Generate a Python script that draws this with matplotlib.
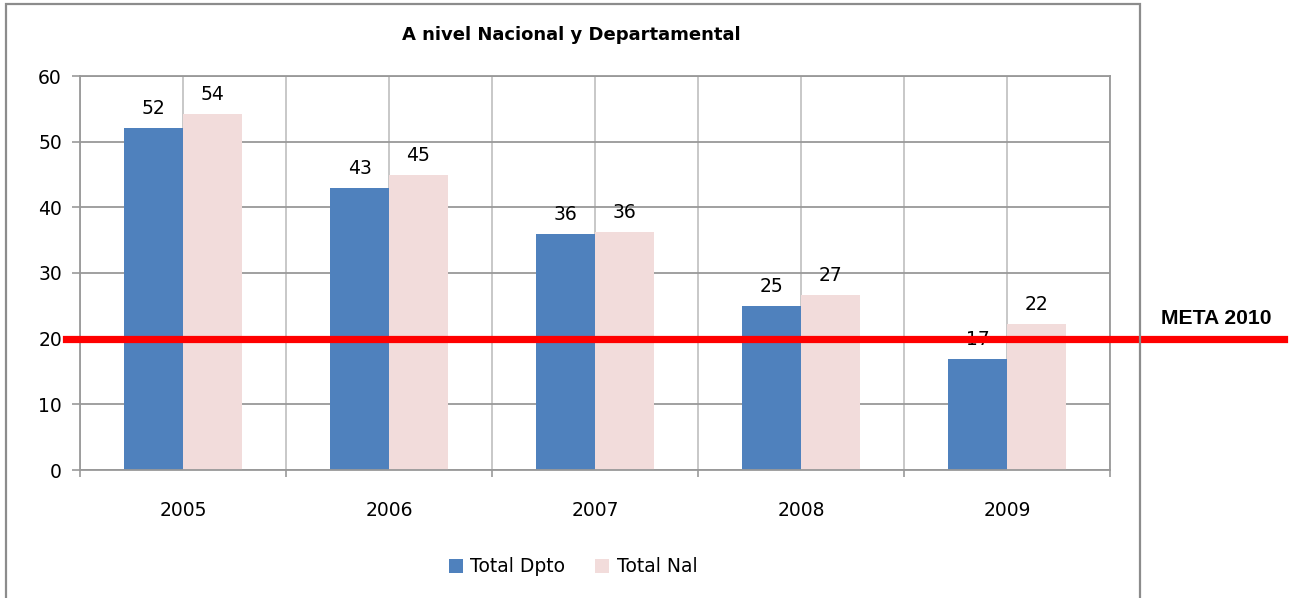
import matplotlib
matplotlib.use("Agg")
import matplotlib.pyplot as plt
import numpy as np
from matplotlib.patches import Rectangle

years = ['2005', '2006', '2007', '2008', '2009']
total_dpto = [52.1, 43.0, 36.0, 25.0, 16.9]
total_nal = [54.2, 45.0, 36.3, 26.7, 22.3]
meta = 20
meta_label = 'META 2010'
title = 'A nivel Nacional y Departamental'

blue = '#4F81BD'
pink = '#F2DCDB'
grid = '#999999'

plt.rcParams['font.family'] = ['DejaVu Sans']

W, H = 1306, 598
fig = plt.figure(figsize=(W / 100, H / 100), dpi=100)
ax = fig.add_axes([80 / W, 1 - 470 / H, 1030 / W, 394 / H])

x = np.arange(len(years))
bw = 0.286
ax.bar(x - bw / 2, total_dpto, bw, color=blue, zorder=2, label='Total Dpto')
ax.bar(x + bw / 2, total_nal, bw, color=pink, zorder=2, label='Total Nal')

for i in range(len(years)):
    ax.annotate(f'{total_dpto[i]:.0f}', (x[i] - bw / 2, total_dpto[i]), xytext=(0, 10),
                textcoords='offset points', ha='center', va='baseline', fontsize=13.5, zorder=3)
    ax.annotate(f'{total_nal[i]:.0f}', (x[i] + bw / 2, total_nal[i]), xytext=(0, 10),
                textcoords='offset points', ha='center', va='baseline', fontsize=13.5, zorder=3)

ax.set_xlim(-0.5, len(years) - 0.5)
ax.set_ylim(0, 60)
ax.set_yticks(range(0, 61, 10))
ax.set_xticks(x)
ax.set_xticklabels(years)
ax.set_xticks(np.arange(-0.5, len(years), 1.0), minor=True)
ax.tick_params(axis='x', which='major', length=0, pad=22, labelsize=13.5)
ax.tick_params(axis='x', which='minor', length=5, width=1.2, color=grid)
ax.tick_params(axis='y', length=6, width=1.2, color=grid, pad=7, labelsize=13.5)
ax.grid(True, axis='y', color=grid, lw=1.3, zorder=1)
ax.grid(True, axis='x', which='both', color='#C4C4C4', lw=1.3, zorder=1)
ax.set_axisbelow(True)
for s in ax.spines.values():
    s.set_color(grid)
    s.set_linewidth(1.3)

# meta line crosses the whole chart
ax.axhline(meta, xmin=-14 / 1030, xmax=1204 / 1030, color='#FF0000', lw=5.2, clip_on=False, zorder=4)
fig.text(1216 / W, 1 - 318 / H, meta_label, fontsize=15.2, fontweight='bold',
         family='Liberation Sans', ha='center', va='center')

fig.text(571 / W, 1 - 35 / H, title, fontsize=13, fontweight='bold', ha='center', va='center')

fig.patches.append(Rectangle((6 / W, -0.05), 1134 / W, 1.05 - 4 / H, transform=fig.transFigure,
                             fill=False, edgecolor='#8C8C8C', lw=1.6, zorder=0))

fig.legend(loc='center', bbox_to_anchor=(573 / W, 1 - 567 / H), ncol=2, frameon=False,
           fontsize=13.5, handlelength=0.75, handleheight=0.75, handletextpad=0.4,
           columnspacing=1.6)

fig.savefig('out.png', dpi=100)
